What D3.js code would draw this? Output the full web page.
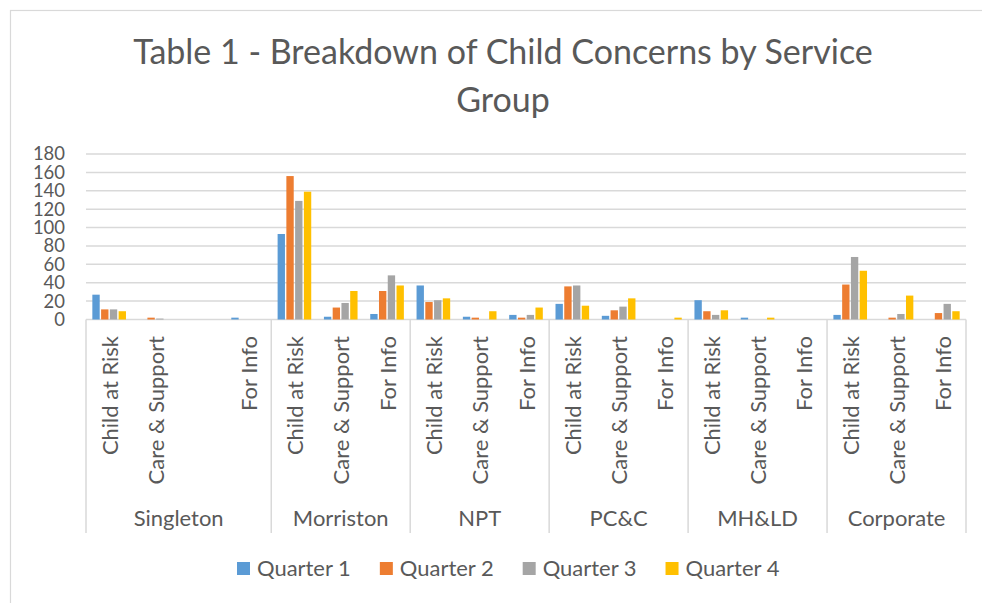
<!DOCTYPE html>
<html>
<head>
<meta charset="utf-8">
<script src="https://cdn.jsdelivr.net/npm/d3@7"></script>
<style>
  html, body { margin: 0; padding: 0; background: #fff; }
  svg { display: block; font-family: Lato, "Open Sans", sans-serif; }
</style>
</head>
<body>
<svg id="chart" width="982" height="603"></svg>
<script>
// ---------- data ----------
const titleLines = ["Table 1 - Breakdown of Child Concerns by Service", "Group"];
const groups = ["Singleton", "Morriston", "NPT", "PC&C", "MH&LD", "Corporate"];
const groupCategories = [
  ["Child at Risk", "Care & Support", "", "For Info"],
  ["Child at Risk", "Care & Support", "For Info"],
  ["Child at Risk", "Care & Support", "For Info"],
  ["Child at Risk", "Care & Support", "For Info"],
  ["Child at Risk", "Care & Support", "For Info"],
  ["Child at Risk", "Care & Support", "For Info"]
];
const seriesNames = ["Quarter 1", "Quarter 2", "Quarter 3", "Quarter 4"];
// values in category order (19 categories)
const quarter1 = [27, 0, 0, 2,   93, 3, 6,     37, 3, 5,    17, 4, 0,    21, 2, 0,    5, 0, 0];
const quarter2 = [11, 2, 0, 0,   156, 13, 31,  19, 2, 2,    36, 10, 0,   9, 0, 0,     38, 2, 7];
const quarter3 = [11, 1, 0, 0,   129, 18, 48,  21, 0, 5,    37, 14, 0,   5, 0, 0,     68, 6, 17];
const quarter4 = [9, 0, 0, 0,    139, 31, 37,  23, 9, 13,   15, 23, 2,   10, 2, 0,    53, 26, 9];
const yTicks = [0, 20, 40, 60, 80, 100, 120, 140, 160, 180];
const colors = ["#5B9BD5", "#ED7D31", "#A5A5A5", "#FFC000"];

// ---------- layout ----------
const svg = d3.select("#chart");
const textColor = "#595959";
const gridColor = "#D9D9D9";
const plot = { left: 86, right: 966, top: 154, bottom: 319.5 };
const axisBottom = 533;

// chart border
svg.append("rect").attr("x", 10.5).attr("y", 10.5).attr("width", 1000).attr("height", 700)
  .attr("fill", "#fff").attr("stroke", gridColor).attr("stroke-width", 1.2);

// flatten categories
const cats = [];
groupCategories.forEach((list, gi) => list.forEach((c, ci) => cats.push({ id: gi + "-" + ci, label: c, group: gi })));
const series = [quarter1, quarter2, quarter3, quarter4];

const x = d3.scaleBand().domain(cats.map(c => c.id)).range([plot.left, plot.right]).paddingInner(0).paddingOuter(0);
const xInner = d3.scaleBand().domain(seriesNames).range([x.bandwidth() * 0.137, x.bandwidth() * 0.863]).paddingInner(0.16).paddingOuter(0);
const y = d3.scaleLinear().domain([0, 180]).range([plot.bottom, plot.top]);

// font fitting helper
function fit(sel, target, start) {
  sel.attr("font-size", start);
  const w = sel.node().getComputedTextLength();
  const s = start * target / w;
  sel.attr("font-size", s);
  return s;
}
const probe = svg.append("text").text("Singleton");
const labelSize = fit(probe, 90, 20);
probe.remove();

// gridlines
svg.append("g").selectAll("line").data(yTicks).join("line")
  .attr("x1", plot.left).attr("x2", plot.right)
  .attr("y1", d => y(d)).attr("y2", d => y(d))
  .attr("stroke", gridColor).attr("stroke-width", 1.5);

// y axis labels
const yAxis = d3.axisLeft(y).tickValues(yTicks).tickSize(0).tickPadding(0);
const yg = svg.append("g").attr("transform", `translate(65,0)`).call(yAxis);
yg.select(".domain").remove();
yg.selectAll("text").attr("fill", textColor).attr("font-size", labelSize * 0.84)
  .attr("font-family", "Lato, 'Open Sans', sans-serif");

// bars
const barG = svg.append("g");
seriesNames.forEach((s, si) => {
  barG.append("g").selectAll("rect").data(cats.map((c, i) => ({ c, v: series[si][i] }))).join("rect")
    .attr("x", d => x(d.c.id) + xInner(s))
    .attr("width", xInner.bandwidth())
    .attr("y", d => y(d.v))
    .attr("height", d => y(0) - y(d.v))
    .attr("fill", colors[si]);
});

// group separators
const groupBounds = [];
groups.forEach((g, gi) => {
  const ids = cats.filter(c => c.group === gi).map(c => c.id);
  groupBounds.push({ name: g, x0: x(ids[0]), x1: x(ids[ids.length - 1]) + x.bandwidth() });
});
const seps = [plot.left].concat(groupBounds.map(b => b.x1));
svg.append("g").selectAll("line").data(seps).join("line")
  .attr("x1", d => d).attr("x2", d => d)
  .attr("y1", plot.bottom).attr("y2", axisBottom)
  .attr("stroke", gridColor).attr("stroke-width", 1.5);

// category labels (rotated)
svg.append("g").selectAll("text").data(cats.filter(c => c.label)).join("text")
  .attr("transform", d => `translate(${x(d.id) + x.bandwidth() / 2},336) rotate(-90)`)
  .attr("text-anchor", "end")
  .attr("dominant-baseline", "central")
  .attr("fill", textColor)
  .attr("font-size", labelSize)
  .text(d => d.label);

// group labels
svg.append("g").selectAll("text").data(groupBounds).join("text")
  .attr("x", d => (d.x0 + d.x1) / 2).attr("y", 526)
  .attr("text-anchor", "middle")
  .attr("fill", textColor)
  .attr("font-size", labelSize)
  .text(d => d.name);

// title
const t1 = svg.append("text").attr("x", 503).attr("y", 64).attr("text-anchor", "middle")
  .attr("fill", textColor).text(titleLines[0]);
const titleSize = fit(t1, 740, 30);
svg.append("text").attr("x", 503).attr("y", 112).attr("text-anchor", "middle")
  .attr("fill", textColor).attr("font-size", titleSize).text(titleLines[1]);

// legend
const legend = svg.append("g");
let lx = 237;
seriesNames.forEach((s, i) => {
  legend.append("rect").attr("x", lx).attr("y", 562).attr("width", 13).attr("height", 13).attr("fill", colors[i]);
  const t = legend.append("text").attr("x", lx + 20).attr("y", 575.5)
    .attr("fill", textColor).attr("font-size", labelSize).text(s);
  lx += 20 + t.node().getComputedTextLength() + 29;
});
</script>
</body>
</html>
